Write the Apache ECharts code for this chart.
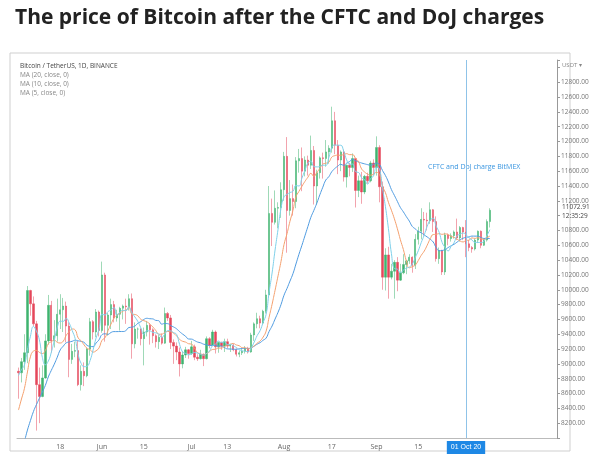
<!DOCTYPE html>
<html><head><meta charset="utf-8">
<script src="https://cdn.jsdelivr.net/npm/echarts@6/dist/echarts.min.js"></script>
<style>html,body{margin:0;padding:0;background:#fff}#c{width:600px;height:457px}</style>
</head><body><div id="c"></div>
<script>
const startDate = '2020-05-04';
const totalDays = 181; // axis extends to Oct 31
const priorCloses = [6840,6640,7120,7100,7260,7130,6840,6850,7130,7490,7510,7540,7700,7790,7760,8780,8620,8830,8970,8900];
const closes = [
8880,9030,9150,9990,9810,9540,8720,8560,8810,9310,9790,9310,9380,9670,9730,9780,9510,9060,9170,9180,8720,8900,8840,9200,9570,9430,9700,9450,
10200,9520,9660,9800,9620,9670,9750,9780,9770,9880,9270,9470,9470,9340,9430,9520,9460,9380,9300,9360,9280,9680,9620,9290,9240,9160,9000,9120,9190,9140,
9230,9090,9070,9130,9070,9340,9250,9430,9230,9290,9240,9300,9240,9250,9190,9130,9150,9170,9210,9160,9390,9540,9610,9550,9710,9930,11030,10910,11100,11110,11350,
11800,11070,11230,11190,11740,11770,11600,11750,11680,11880,11400,11580,11780,11770,11860,11910,12280,11950,11750,11860,11520,11680,11650,11770,11340,11470,11320,11530,11470,11710,11650,
11920,11390,10170,10470,10170,10250,10370,10130,10230,10340,10390,10440,10330,10680,10790,10950,10940,10930,11080,10920,10420,10530,10240,10740,10690,10730,10780,10700,10840,10780,
10620,10570,10550,10670,10790,10600,10670,10920,11073];
const highs = [
8950,9080,9400,10050,10000,9910,9580,8950,8980,9400,9930,9850,9590,9880,9940,9890,9840,9560,9270,9300,9310,8980,9020,9220,9620,9590,9740,9720,
10380,10230,9690,9880,9850,9730,9770,9800,9880,9940,9950,9560,9490,9480,9490,9580,9550,9480,9400,9390,9410,9760,9700,9660,9330,9290,9220,9170,9230,9200,
9310,9260,9130,9190,9140,9370,9360,9460,9450,9300,9300,9340,9340,9270,9270,9210,9180,9200,9240,9230,9420,9560,9690,9650,9730,10000,11400,11230,11340,11180,11450,
11860,12060,11480,11420,11790,11900,11920,11800,11810,12080,11940,11620,11800,11850,12020,11950,12470,12400,12020,11880,11890,11690,11710,11840,11780,11540,11590,11550,11580,11740,11760,
12070,11950,11460,10560,10580,10350,10400,10440,10350,10480,10400,10480,10450,10750,10850,11100,11050,11040,11180,11090,10990,10570,10540,10770,10760,10760,10800,10960,10860,10850,
10940,10670,10590,10690,10800,10800,10680,10950,11100];
const lows = [
8530,8750,8920,9010,9650,9510,8100,8200,8550,8800,9260,9150,9220,9300,9470,9430,9290,8820,9000,9090,8700,8640,8700,8820,9110,9330,9360,9370,
9420,9300,9380,9470,9560,9570,9450,9600,9540,9720,9070,9210,9340,9250,8980,9370,9260,9280,9220,9200,9260,9270,9580,9200,9000,9050,8830,8940,9080,9070,
9120,9050,9040,9060,8970,9060,9210,9240,9140,9150,9190,9160,9210,9160,9170,9100,9090,9120,9140,9140,9150,9310,9480,9480,9530,9680,9930,10590,10880,10830,10970,
11200,10500,11000,11000,11100,11580,11330,11530,11540,11630,11150,11150,11500,11500,11660,11700,11850,11830,11560,11600,11460,11380,11530,11590,11110,11250,11160,11290,11430,11450,11550,
11540,11180,10000,9990,9880,10140,9880,9980,10120,10210,10210,10350,10230,10280,10610,10680,10730,10800,10890,10780,10380,10350,10200,10200,10600,10650,10690,10670,10650,10670,
10440,10520,10500,10530,10630,10560,10590,10650,10840];
const tickLabels = {'2020-05-18':'18','2020-06-01':'Jun','2020-06-15':'15','2020-07-01':'Jul','2020-07-13':'13','2020-08-01':'Aug','2020-08-17':'17','2020-09-01':'Sep','2020-09-15':'15'};
const legendLines = ['Bitcoin / TetherUS, 1D, BINANCE','MA (20, close, 0)','MA (10, close, 0)','MA (5, close, 0)'];

const cats = [];
{ const d0 = new Date(startDate+'T00:00:00Z');
  for (let i=0;i<totalDays;i++){ const d=new Date(d0.getTime()+i*86400000); cats.push(d.toISOString().slice(0,10)); } }
const all = priorCloses.concat(closes);
const candle = closes.map((c,i)=>{ const o = i===0 ? priorCloses[priorCloses.length-1] : closes[i-1]; return [o,c,lows[i],highs[i]]; });
function ma(n){ return closes.map((c,i)=>{ const k=i+priorCloses.length; let s=0; for(let j=k-n+1;j<=k;j++) s+=all[j]; return +(s/n).toFixed(1); }); }

const chart = echarts.init(document.getElementById('c'));
chart.setOption({
  animation:false,
  grid:{left:17,right:43,top:60,bottom:19},
  xAxis:{type:'category',data:cats,boundaryGap:true,
    axisLine:{lineStyle:{color:'#bbb'}},
    axisTick:{alignWithLabel:true,interval:(i,v)=>!!tickLabels[v],lineStyle:{color:'#ccc'},length:3},
    axisLabel:{interval:(i,v)=>!!tickLabels[v],formatter:v=>tickLabels[v]||'',fontSize:7,color:'#666',margin:5,fontFamily:'Open Sans'},
    splitLine:{show:false}},
  yAxis:{type:'value',position:'right',min:8000,max:13100,interval:200,scale:true,
    axisLine:{show:true,lineStyle:{color:'#999'}},
    axisTick:{show:true,length:3,lineStyle:{color:'#999'}},
    axisLabel:{fontSize:6.5,color:'#777',margin:4,formatter:v=>(v>=8200&&v<=12800&&v!==11000)?v.toFixed(2):'',fontFamily:'Open Sans'},
    splitLine:{show:false}},
  series:[
    {type:'candlestick',data:candle,barWidth:'62%',
      itemStyle:{color:'#3fb36f',color0:'#e5475a',borderColor:'#3fb36f',borderColor0:'#e5475a',borderWidth:0.5},
      markLine:{symbol:'none',silent:true,lineStyle:{color:'#8fc3e8',type:'solid',width:1},
        label:{show:true,position:'start',formatter:'01 Oct 20',backgroundColor:'#1e88e5',color:'#fff',fontSize:7,padding:[3,4],distance:3},
        data:[{xAxis:'2020-10-01'}]}},
    {type:'line',data:ma(20),showSymbol:false,smooth:true,lineStyle:{color:'#4f9be0',width:1}},
    {type:'line',data:ma(10),showSymbol:false,smooth:true,lineStyle:{color:'#f4a06e',width:1}},
    {type:'line',data:ma(5),showSymbol:false,smooth:true,lineStyle:{color:'#7fd0ea',width:1}}
  ],
  graphic:[
    {type:'text',left:15,top:8,style:{text:'The price of Bitcoin after the CFTC and DoJ charges',font:'bold 21px "Open Sans"',fill:'#222'}},
    {type:'rect',shape:{x:10,y:53,width:560,height:398},style:{fill:'none',stroke:'#cfcfcf',lineWidth:1}},
    {type:'text',left:20,top:62,style:{text:legendLines[0],font:'6.5px "Open Sans"',fill:'#444',lineHeight:9}},
    {type:'text',left:20,top:71,style:{text:legendLines.slice(1).join('\n'),font:'6.5px "Open Sans"',fill:'#888',lineHeight:9}},
    {type:'text',left:428,top:163,style:{text:'CFTC and DoJ charge BitMEX',font:'7px "Open Sans"',fill:'#3a96e0'}},
    {type:'text',left:562,top:203,style:{text:'11072.91\n12:35:29',font:'6.5px "Open Sans"',fill:'#444',lineHeight:9}},
    {type:'text',left:562,top:62,style:{text:'USDT ▾',font:'6px "Open Sans"',fill:'#888'}}
  ]
});
</script></body></html>
